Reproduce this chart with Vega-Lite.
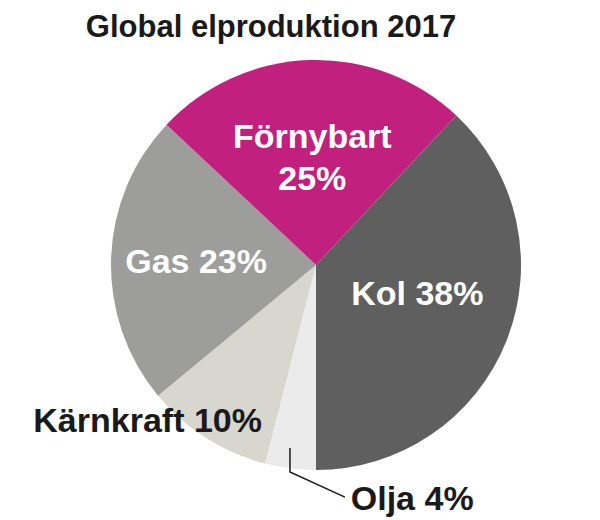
{
  "$schema": "https://vega.github.io/schema/vega-lite/v6.json",
  "width": 420,
  "height": 420,
  "autosize": "none",
  "padding": {"left": 106, "right": 74, "top": 55, "bottom": 45},
  "background": "white",
  "title": {
    "text": "Global elproduktion 2017",
    "font": "Liberation Sans",
    "fontSize": 31,
    "fontWeight": "bold",
    "color": "#1a1a1a",
    "anchor": "middle",
    "frame": "group",
    "dx": -45,
    "dy": 33,
    "baseline": "alphabetic",
    "offset": 20
  },
  "view": {"stroke": null},
  "datasets": {
    "shares": [
      {"cat": "Kol", "value": 38, "order": 1, "label": "Kol 38%"},
      {"cat": "Olja", "value": 4, "order": 2, "label": "Olja 4%"},
      {"cat": "Kärnkraft", "value": 10, "order": 3, "label": "Kärnkraft 10%"},
      {"cat": "Gas", "value": 23, "order": 4, "label": "Gas 23%"},
      {"cat": "Förnybart", "value": 25, "order": 5, "label": "Förnybart\n25%"}
    ],
    "leader": [
      {"px": -0.127, "py": -0.893, "seq": 1},
      {"px": -0.127, "py": -1.010, "seq": 2},
      {"px": 0.141, "py": -1.132, "seq": 3}
    ]
  },
  "layer": [
    {
      "data": {"name": "shares"},
      "mark": {"type": "arc", "outerRadius": 205},
      "encoding": {
        "theta": {"field": "value", "type": "quantitative", "stack": true, "scale": {"range": [0.75398, 7.03717]}},
        "order": {"field": "order", "type": "quantitative"},
        "color": {
          "field": "cat", "type": "nominal", "legend": null,
          "scale": {
            "domain": ["Kol", "Olja", "Kärnkraft", "Gas", "Förnybart"],
            "range": ["#5f5f5f", "#ebebeb", "#d7d7cf", "#9d9d9b", "#c2207e"]
          }
        }
      }
    },
    {
      "data": {"name": "shares"},
      "mark": {"type": "text", "radius": 117, "font": "Liberation Sans", "fontSize": 34, "fontWeight": "bold", "color": "white", "align": "center", "baseline": "alphabetic", "lineBreak": "\n", "lineHeight": 42},
      "encoding": {
        "theta": {"field": "value", "type": "quantitative", "stack": true, "scale": {"range": [0.75398, 7.03717]}},
        "order": {"field": "order", "type": "quantitative"},
        "detail": {"field": "cat", "type": "nominal"},
        "text": {"condition": {"test": "datum.cat === 'Förnybart'", "field": "label"}, "value": ""}
      }
    },
    {
      "data": {"name": "shares"},
      "mark": {"type": "text", "radius": 120, "dy": 12, "font": "Liberation Sans", "fontSize": 34, "fontWeight": "bold", "color": "white", "align": "center", "baseline": "alphabetic"},
      "encoding": {
        "theta": {"field": "value", "type": "quantitative", "stack": true, "scale": {"range": [0.75398, 7.03717]}},
        "order": {"field": "order", "type": "quantitative"},
        "detail": {"field": "cat", "type": "nominal"},
        "text": {"condition": {"test": "datum.cat === 'Gas'", "field": "label"}, "value": ""}
      }
    },
    {
      "data": {"name": "shares"},
      "mark": {"type": "text", "radius": 109, "font": "Liberation Sans", "fontSize": 34, "fontWeight": "bold", "color": "white", "align": "center", "baseline": "alphabetic"},
      "encoding": {
        "theta": {"field": "value", "type": "quantitative", "stack": true, "scale": {"range": [0.75398, 7.03717]}},
        "order": {"field": "order", "type": "quantitative"},
        "detail": {"field": "cat", "type": "nominal"},
        "text": {"condition": {"test": "datum.cat === 'Kol'", "field": "label"}, "value": ""}
      }
    },
    {
      "data": {"name": "shares"},
      "mark": {"type": "text", "radius": 150, "dx": -88, "dy": 40, "font": "Liberation Sans", "fontSize": 34, "fontWeight": "bold", "color": "#1a1a1a", "align": "center", "baseline": "alphabetic"},
      "encoding": {
        "theta": {"field": "value", "type": "quantitative", "stack": true, "scale": {"range": [0.75398, 7.03717]}},
        "order": {"field": "order", "type": "quantitative"},
        "detail": {"field": "cat", "type": "nominal"},
        "text": {"condition": {"test": "datum.cat === 'Kärnkraft'", "field": "label"}, "value": ""}
      }
    },
    {
      "data": {"name": "shares"},
      "mark": {"type": "text", "radius": 150, "dx": 115, "dy": 96, "font": "Liberation Sans", "fontSize": 34, "fontWeight": "bold", "color": "#1a1a1a", "align": "center", "baseline": "alphabetic"},
      "encoding": {
        "theta": {"field": "value", "type": "quantitative", "stack": true, "scale": {"range": [0.75398, 7.03717]}},
        "order": {"field": "order", "type": "quantitative"},
        "detail": {"field": "cat", "type": "nominal"},
        "text": {"condition": {"test": "datum.cat === 'Olja'", "field": "label"}, "value": ""}
      }
    },
    {
      "data": {"name": "leader"},
      "mark": {"type": "line", "color": "#1a1a1a", "strokeWidth": 1.5},
      "encoding": {
        "x": {"field": "px", "type": "quantitative", "axis": null, "scale": {"domain": [-1.02439, 1.02439], "nice": false, "zero": false}},
        "y": {"field": "py", "type": "quantitative", "axis": null, "scale": {"domain": [-1.02439, 1.02439], "nice": false, "zero": false}},
        "order": {"field": "seq", "type": "quantitative"}
      }
    }
  ]
}
